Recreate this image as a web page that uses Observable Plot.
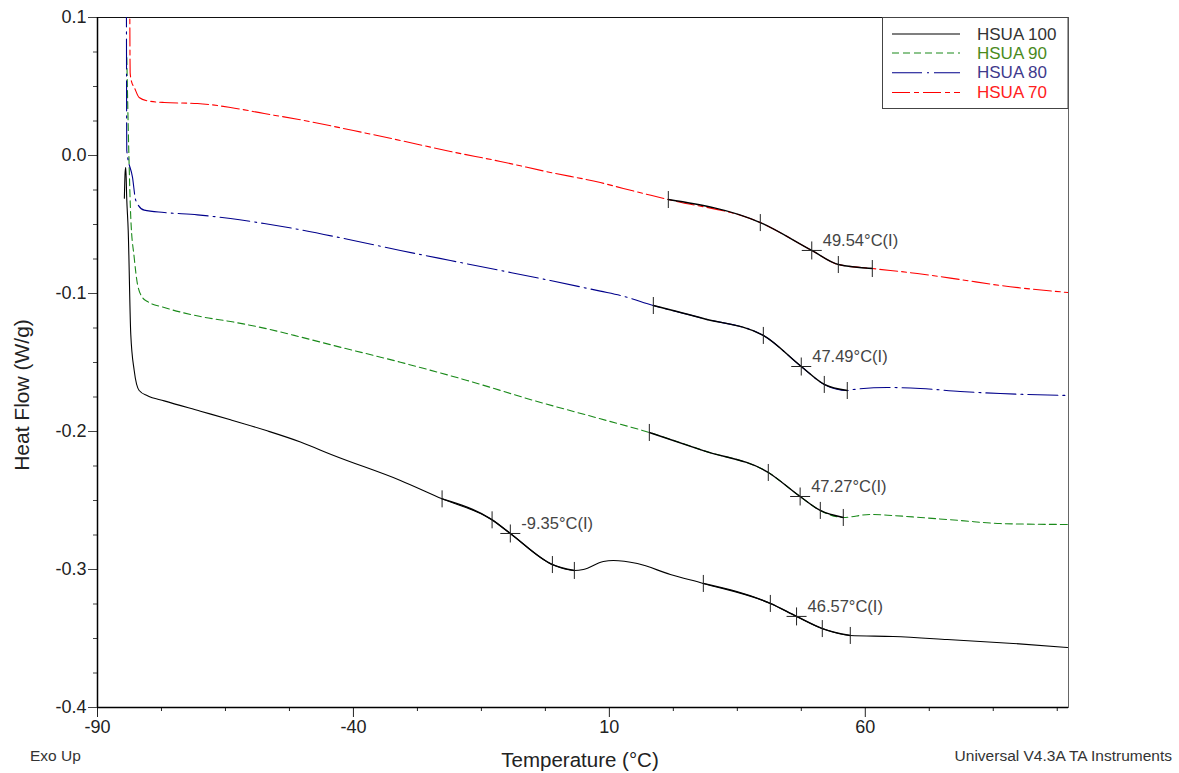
<!DOCTYPE html>
<html><head><meta charset="utf-8">
<script src="https://cdn.jsdelivr.net/npm/d3@7"></script>
<script src="https://cdn.jsdelivr.net/npm/@observablehq/plot@0.6"></script>
<style>
body{margin:0;background:#fff;font-family:"Liberation Sans",Arial,sans-serif;}
#wrap{position:relative;width:1179px;height:773px;overflow:hidden;background:#fff}
.t{position:absolute;white-space:nowrap;color:#222;line-height:1}
</style></head><body><div id="wrap"></div>
<script>
// ---- axis ticks ----
const xMajor = [-90, -40, 10, 60];
const xMinor = [-77.5, -65, -52.5, -27.5, -15, -2.5, 22.5, 35, 47.5, 72.5, 85, 97.5];
const yMajor = [0.1, 0.0, -0.1, -0.2, -0.3, -0.4];
const yMinor = [0.075, 0.05, 0.025, -0.025, -0.05, -0.075, -0.125, -0.15, -0.175, -0.225, -0.25, -0.275, -0.325, -0.35, -0.375];

// ---- series: [Temperature °C, Heat Flow W/g] ----
const hsua100 = [
  [-84.75,-0.031],[-84.6,-0.012],[-84.47,-0.0087],[-84.3,-0.03],[-84.0,-0.0543],[-83.5,-0.1295],
  [-82.83,-0.1558],[-81.86,-0.1703],[-80.23,-0.1741],[-76.97,-0.1778],[-69.88,-0.1853],[-64.02,-0.1915],
  [-56.86,-0.1995],[-50.35,-0.2076],[-43.85,-0.2174],[-30.82,-0.2355],[-22.68,-0.2488],[-12.91,-0.264],
  [-9.35,-0.2739],[-1.13,-0.2964],[3.16,-0.3007],[4.92,-0.3],[8.83,-0.2942],[10.78,-0.2935],
  [15.47,-0.2957],[21.91,-0.3036],[28.36,-0.3101],[41.45,-0.3246],[46.57,-0.334],[51.6,-0.3428],
  [57.07,-0.3478],[65.47,-0.3486],[76.02,-0.3507],[88.91,-0.3536],[99.5,-0.3565]
];
const hsua90 = [
  [-84.28,0.071],[-83.89,0.0036],[-83.5,-0.0449],[-82.83,-0.0739],[-82.19,-0.0933],[-81.21,-0.1029],
  [-80.23,-0.1058],[-76.97,-0.1101],[-69.88,-0.1167],[-63.4,-0.1207],[-56.86,-0.1256],[-50.35,-0.1315],
  [-43.85,-0.1377],[-30.82,-0.1498],[-17.79,-0.163],[-4.79,-0.1775],[8.24,-0.1908],[17.81,-0.2007],
  [28.36,-0.2138],[41.05,-0.2297],[47.27,-0.2471],[51.21,-0.2572],[55.7,-0.2623],[60.98,-0.2601],
  [65.47,-0.2609],[70.74,-0.2623],[78.55,-0.2645],[86.37,-0.2667],[99.65,-0.2674]
];
const hsua80 = [
  [-84.35,0.115],[-84.28,0.0036],[-83.16,-0.0159],[-82.52,-0.0326],[-80.88,-0.0396],[-76.97,-0.0413],
  [-70.47,-0.043],[-64.02,-0.0457],[-57.44,-0.0493],[-50.94,-0.0534],[-40,-0.0616],[-30.82,-0.0688],
  [-21.05,-0.0761],[-11.29,-0.0833],[-1.52,-0.0906],[8.24,-0.0983],[12.15,-0.1014],[18.59,-0.1087],
  [28.36,-0.1181],[40.08,-0.1304],[47.49,-0.1529],[51.99,-0.1659],[56.48,-0.1703],[57.66,-0.1696],
  [64.3,-0.1681],[70.74,-0.1688],[78.55,-0.171],[86.37,-0.1725],[99.65,-0.1739]
];
const hsua70 = [
  [-83.7,0.115],[-83.62,0.06],[-83.35,0.0535],[-82.83,0.0495],[-81.86,0.042],[-80.23,0.0396],
  [-76.97,0.0384],[-70.47,0.0377],[-64.02,0.0348],[-57.44,0.0304],[-50.94,0.0263],[-40,0.0181],
  [-30.82,0.0109],[-21.05,0.0029],[-11.29,-0.0043],[-1.52,-0.0123],[8.24,-0.0196],[12.73,-0.0239],
  [21.52,-0.0319],[39.49,-0.0486],[49.54,-0.0688],[54.73,-0.079],[61.37,-0.0819],[70.16,-0.0855],
  [78.55,-0.0899],[86.37,-0.0942],[99.65,-0.0993]
];

// ---- glass-transition analysis markers (°C) ----
const marks100a = [-22.68, -12.91, -1.13, 3.16];
const marks100b = [28.36, 41.45, 51.6, 57.07];
const marks90 = [17.81, 41.05, 51.21, 55.7];
const marks80 = [18.59, 40.08, 51.99, 56.48];
const marks70 = [21.52, 39.49, 54.73, 61.37];
const tg100a = -9.35, tg100b = 46.57, tg90 = 47.27, tg80 = 47.49, tg70 = 49.54;

const names = ["HSUA 100", "HSUA 90", "HSUA 80", "HSUA 70"];
const lineColors = ["#000000", "#1a8a1a", "#00008b", "#ff0000"];
const textColors = ["#333333", "#4a8a1c", "#3f3a8c", "#ff2020"];
const dashes = [null, "7,4", "30,5,2,5", "18,4,5,4"];

// ---- helpers ----
function interp(s, t) {
  for (let i = 1; i < s.length; i++) {
    if (s[i][0] >= t) {
      const [x0, y0] = s[i-1], [x1, y1] = s[i];
      return y0 + (y1 - y0) * (t - x0) / (x1 - x0);
    }
  }
  return s[s.length-1][1];
}
const within = (s, a, b) => s.filter(d => d[0] >= a - 1e-9 && d[0] <= b + 1e-9);

const seriesList = [hsua100, hsua90, hsua80, hsua70];
const overlays = [
  within(hsua100, marks100a[0], marks100a[3]),
  within(hsua100, marks100b[0], marks100b[3]),
  within(hsua90, marks90[0], marks90[3]),
  within(hsua80, marks80[0], marks80[3]),
  within(hsua70, marks70[0], marks70[3])
];
const tickPts = [
  ...marks100a.map(t => ({x: t, y: interp(hsua100, t)})),
  ...marks100b.map(t => ({x: t, y: interp(hsua100, t)})),
  ...marks90.map(t => ({x: t, y: interp(hsua90, t)})),
  ...marks80.map(t => ({x: t, y: interp(hsua80, t)})),
  ...marks70.map(t => ({x: t, y: interp(hsua70, t)}))
];
const tgPts = [
  {x: tg100a, y: interp(hsua100, tg100a)},
  {x: tg100b, y: interp(hsua100, tg100b)},
  {x: tg90, y: interp(hsua90, tg90)},
  {x: tg80, y: interp(hsua80, tg80)},
  {x: tg70, y: interp(hsua70, tg70)}
].map(d => ({...d, label: d.x.toFixed(2) + "°C(I)"}));

const vbar = {draw(ctx) { ctx.moveTo(0, -8.5); ctx.lineTo(0, 8.5); }};
const cross = {draw(ctx) { ctx.moveTo(-10, 0); ctx.lineTo(10, 0); ctx.moveTo(0, -9); ctx.lineTo(0, 9); }};

const lineMarks = seriesList.map((s, i) => Plot.line(s, {
  x: d => d[0], y: d => d[1], stroke: lineColors[i], strokeWidth: 1.1,
  strokeDasharray: dashes[i], curve: "monotone-x", clip: true
}));
const overlayMarks = overlays.map(s => Plot.line(s, {
  x: d => d[0], y: d => d[1], stroke: "#000", strokeWidth: 1.4, curve: "monotone-x"
}));

const chart = Plot.plot({
  width: 1179, height: 773,
  marginTop: 17, marginBottom: 66, marginLeft: 97, marginRight: 111,
  x: {domain: [-90, 99.7]},
  y: {domain: [-0.4, 0.1]},
  style: {fontFamily: "'Liberation Sans', Arial, sans-serif", fontSize: "18px", color: "#222", background: "white", overflow: "visible"},
  marks: [
    Plot.frame({stroke: "#666"}),
    Plot.ruleY([0.1], {stroke: "#111", strokeWidth: 1.2}),
    Plot.axisX(xMajor, {tickSize: 10, tickPadding: 3, tickFormat: d => String(d), label: null, fontSize: 18, stroke: "#222", fill: "#222"}),
    Plot.axisX(xMinor, {tickSize: 4, fill: "none", label: null, stroke: "#222"}),
    Plot.axisY(yMajor, {tickSize: 9, tickPadding: 2, tickFormat: d => d.toFixed(1), label: null, fontSize: 18, stroke: "#444", fill: "#222"}),
    Plot.axisY(yMinor, {tickSize: 4, fill: "none", label: null, stroke: "#444"}),
    Plot.ruleX([-90], {stroke: "#000", strokeWidth: 1.5}),
    Plot.ruleY([-0.4], {stroke: "#000", strokeWidth: 1.5}),
    ...lineMarks,
    ...overlayMarks,
    Plot.dot(tickPts, {x: "x", y: "y", symbol: vbar, fill: "none", stroke: "#222", strokeWidth: 1}),
    Plot.dot(tgPts, {x: "x", y: "y", symbol: cross, fill: "none", stroke: "#222", strokeWidth: 1}),
    Plot.text(tgPts, {x: "x", y: "y", text: "label", dx: 11, dy: -10, textAnchor: "start", fontSize: 16.5, fill: "#444"})
  ]
});

const wrap = document.getElementById("wrap");
chart.style.position = "absolute";
chart.style.left = "0px";
chart.style.top = "0px";
wrap.appendChild(chart);

// ---- legend (inside plot, top right) ----
const ns = "http://www.w3.org/2000/svg";
const leg = document.createElementNS(ns, "svg");
leg.setAttribute("width", 187); leg.setAttribute("height", 92);
leg.style.position = "absolute"; leg.style.left = "882px"; leg.style.top = "17px";
const box = document.createElementNS(ns, "rect");
box.setAttribute("x", 0.5); box.setAttribute("y", 0.5); box.setAttribute("width", 185.5); box.setAttribute("height", 91);
box.setAttribute("fill", "white"); box.setAttribute("stroke", "#444"); box.setAttribute("stroke-width", 1);
leg.appendChild(box);
const rowsY = [17, 36, 55.7, 75.5];
names.forEach((n, i) => {
  const ln = document.createElementNS(ns, "line");
  ln.setAttribute("x1", 10); ln.setAttribute("x2", 78);
  ln.setAttribute("y1", rowsY[i]); ln.setAttribute("y2", rowsY[i]);
  ln.setAttribute("stroke", lineColors[i]); ln.setAttribute("stroke-width", 1.1);
  if (dashes[i]) ln.setAttribute("stroke-dasharray", dashes[i]);
  leg.appendChild(ln);
  const tx = document.createElementNS(ns, "text");
  tx.setAttribute("x", 95); tx.setAttribute("y", rowsY[i]);
  tx.setAttribute("dominant-baseline", "central");
  tx.setAttribute("font-family", "'Liberation Sans', Arial, sans-serif");
  tx.setAttribute("font-size", 17);
  tx.setAttribute("fill", textColors[i]);
  tx.textContent = n;
  leg.appendChild(tx);
});
wrap.appendChild(leg);

// ---- titles and footers ----
function addText(txt, css) {
  const d = document.createElement("div");
  d.className = "t"; d.textContent = txt;
  Object.assign(d.style, css);
  wrap.appendChild(d);
}
addText("Temperature (°C)", {left: "580px", top: "760px", fontSize: "20.5px", transform: "translate(-50%,-50%)"});
addText("Heat Flow (W/g)", {left: "21px", top: "395px", fontSize: "21px", transform: "translate(-50%,-50%) rotate(-90deg)"});
addText("Exo Up", {left: "30px", top: "756px", fontSize: "15.5px", color: "#333", transform: "translate(0,-50%)"});
addText("Universal V4.3A TA Instruments", {right: "7px", top: "756px", fontSize: "15.5px", color: "#333", transform: "translate(0,-50%)"});
</script>
</body></html>
